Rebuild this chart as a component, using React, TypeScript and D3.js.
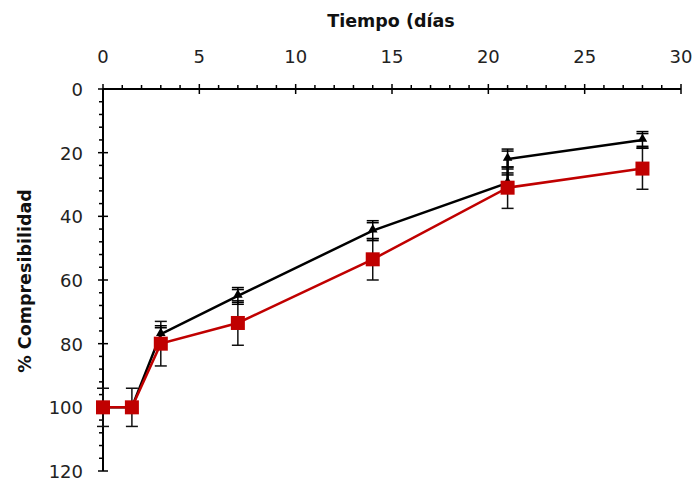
import React from 'react'
import * as d3 from 'd3'

// días de medición
const redDays = [0, 1.5, 3, 7, 14, 21, 28]
const redValues = [100, 100, 80, 73.5, 53.5, 31, 25]
const redErrors = [6, 6, 7, 7, 6.5, 6.5, 6.5]

const blackDays = [0, 1.5, 3, 7, 14, 21, 21, 28]
const blackValues = [100, 100, 77, 65, 44.5, 29.5, 22, 16]
const blackErrors = [0, 0, 2, 2, 2.5, 2.5, 2.5, 2]

const xTicks = [0, 5, 10, 15, 20, 25, 30]
const yTicks = [0, 20, 40, 60, 80, 100, 120]

const width = 694,
  height = 483

const RED = '#c00000'

const App = () => {
  // scales
  const x = d3.scaleLinear().domain([0, 30]).range([103, 681])
  const y = d3.scaleLinear().domain([0, 120]).range([89, 471])

  const line = d3
    .line<[number, number]>()
    .x(d => x(d[0]))
    .y(d => y(d[1]))

  const redPts: [number, number][] = redDays.map((d, i) => [d, redValues[i]])
  const blackPts: [number, number][] = blackDays.map((d, i) => [d, blackValues[i]])

  const font = '"DejaVu Sans", Verdana, sans-serif'

  // minor ticks
  const xMinor = d3.range(0, 31, 1).filter(d => d % 5 !== 0)
  const yMinor = d3.range(0, 121, 4).filter(d => d % 20 !== 0)

  const triangle = d3.symbol(d3.symbolTriangle, 40)

  return (
    <svg
      width={width}
      height={height}
      style={{ position: 'absolute', left: 0, top: 0, background: '#fff' }}
    >
      {/* titles */}
      <text
        x={391}
        y={27}
        textAnchor="middle"
        fontFamily={font}
        fontWeight="bold"
        fontSize={17.5}
        fill="#111"
      >
        Tiempo (días
      </text>
      <text
        transform={`translate(31, ${281}) rotate(-90)`}
        textAnchor="middle"
        fontFamily={font}
        fontWeight="bold"
        fontSize={17.5}
        fill="#111"
      >
        % Compresibilidad
      </text>

      {/* x axis on top */}
      <line x1={x(0)} x2={x(30)} y1={y(0)} y2={y(0)} stroke="#000" strokeWidth={2} />
      {xTicks.map(d => (
        <g key={d}>
          <line x1={x(d)} x2={x(d)} y1={y(0) - 5} y2={y(0) + 5} stroke="#000" strokeWidth={1.5} />
          <text
            x={x(d)}
            y={63}
            textAnchor="middle"
            fontFamily={font}
            fontSize={18}
            fill="#222"
          >
            {d}
          </text>
        </g>
      ))}
      {xMinor.map(d => (
        <line key={d} x1={x(d)} x2={x(d)} y1={y(0) - 4} y2={y(0)} stroke="#000" strokeWidth={1.5} />
      ))}

      {/* y axis */}
      <line x1={x(0)} x2={x(0)} y1={y(0)} y2={y(120)} stroke="#000" strokeWidth={2} />
      {yTicks.map(d => (
        <g key={d}>
          <line x1={x(0) - 5} x2={x(0) + 5} y1={y(d)} y2={y(d)} stroke="#000" strokeWidth={1.5} />
          <text
            x={83}
            y={y(d) + 7}
            textAnchor="end"
            fontFamily={font}
            fontSize={18}
            fill="#222"
          >
            {d}
          </text>
        </g>
      ))}
      {yMinor.map(d => (
        <line key={d} x1={x(0) - 4} x2={x(0)} y1={y(d)} y2={y(d)} stroke="#000" strokeWidth={1.5} />
      ))}

      {/* red error bars */}
      {redPts.map((p, i) => {
        const cx = x(p[0])
        const lo = y(p[1] - redErrors[i])
        const hi = y(p[1] + redErrors[i])
        return (
          <g key={'re' + i} stroke="#111" strokeWidth={1.5}>
            <line x1={cx} x2={cx} y1={lo} y2={hi} />
            <line x1={cx - 6} x2={cx + 6} y1={lo} y2={lo} />
            <line x1={cx - 6} x2={cx + 6} y1={hi} y2={hi} />
          </g>
        )
      })}

      {/* black series */}
      <path d={line(blackPts) || ''} fill="none" stroke="#000" strokeWidth={2.5} />
      {blackPts.map((p, i) => {
        const cx = x(p[0])
        const e = blackErrors[i]
        if (!e) return null
        const lo = y(p[1] - e)
        const hi = y(p[1] + e)
        return (
          <g key={'be' + i} stroke="#000" strokeWidth={1.5}>
            <line x1={cx} x2={cx} y1={lo - 2} y2={hi + 2} />
            {[lo - 2, lo, hi, hi + 2].map((yy, j) => (
              <line key={j} x1={cx - 6} x2={cx + 6} y1={yy} y2={yy} />
            ))}
          </g>
        )
      })}
      {blackPts.slice(2).map((p, i) => (
        <path
          key={'bm' + i}
          d={triangle() || ''}
          transform={`translate(${x(p[0])}, ${y(p[1]) - 1})`}
          fill="#000"
        />
      ))}

      {/* red series */}
      <path d={line(redPts) || ''} fill="none" stroke={RED} strokeWidth={2.5} />
      {redPts.map((p, i) => (
        <rect
          key={'rm' + i}
          x={x(p[0]) - 7}
          y={y(p[1]) - 7}
          width={14}
          height={14}
          fill={RED}
        />
      ))}
    </svg>
  )
}

export default App
